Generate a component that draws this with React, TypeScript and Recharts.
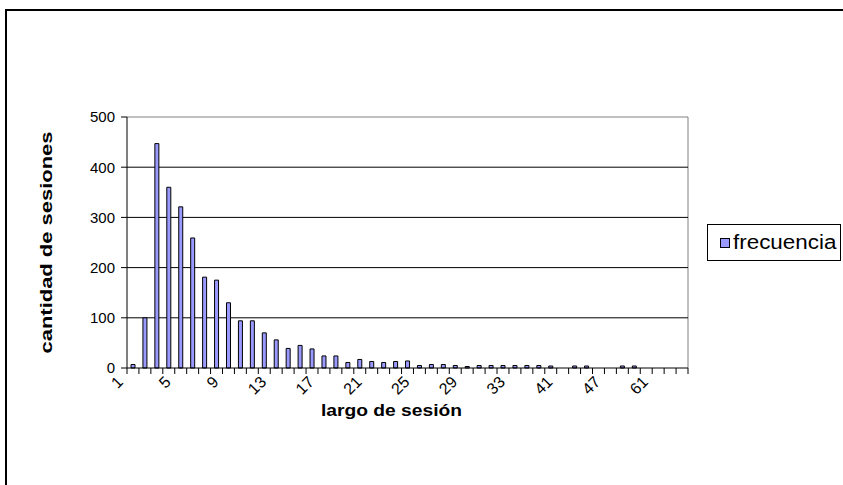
import { BarChart, Bar, XAxis, YAxis, CartesianGrid, Legend, Label } from 'recharts';

// session length buckets as printed on the x axis (only every 4th is labelled)
const categories = [
  '1', '2', '3', '4', '5', '6', '7', '8', '9', '10',
  '11', '12', '13', '14', '15', '16', '17', '18', '19', '20',
  '21', '22', '23', '24', '25', '26', '27', '28', '29', '30',
  '31', '32', '33', '35', '37', '39', '41', '42', '43', '45',
  '47', '49', '52', '55', '61', '70', '85',
];

const frecuencia = [
  7, 100, 447, 360, 321, 259, 181, 175, 130, 94,
  94, 70, 56, 39, 45, 38, 24, 24, 11, 17,
  13, 11, 13, 14, 5, 7, 7, 5, 3, 5,
  5, 5, 5, 5, 5, 4, 0, 4, 4, 0,
  0, 4, 4, 0, 0, 0, 0,
];

const yTicks = [0, 100, 200, 300, 400, 500];
const gridValues = [100, 200, 300, 400];

const data = categories.map((largo, i) => ({ largo, frecuencia: frecuencia[i] }));

const W = 843;
const H = 485;
const PLOT_LEFT = 127;
const PLOT_RIGHT = 688;
const PLOT_TOP = 117;
const PLOT_BOTTOM = 368;
const BAND = (PLOT_RIGHT - PLOT_LEFT) / categories.length;
const FONT = '"Liberation Sans", Arial, sans-serif';

function CategoryTick(props: any) {
  const { x, y, payload, index } = props;
  const half = BAND / 2;
  const last = index === categories.length - 1;
  const lx = x - 9;
  const ly = y + 15;
  return (
    <g>
      <line x1={x - half} x2={x - half} y1={y} y2={y + 6} stroke="#000" />
      {last && <line x1={x + half} x2={x + half} y1={y} y2={y + 6} stroke="#000" />}
      {index % 4 === 0 && (
        <text
          x={lx}
          y={ly}
          transform={`rotate(-45 ${lx} ${ly})`}
          textAnchor="end"
          fontSize={16}
          fontFamily={FONT}
          fill="#000"
        >
          {payload.value}
        </text>
      )}
    </g>
  );
}

function LegendBox() {
  return (
    <div
      style={{
        boxSizing: 'border-box',
        width: 134,
        height: 37,
        border: '1px solid #000',
        background: '#fff',
        display: 'flex',
        alignItems: 'center',
        paddingLeft: 12,
        fontFamily: FONT,
      }}
    >
      <span
        style={{
          display: 'inline-block',
          boxSizing: 'border-box',
          width: 10,
          height: 10,
          background: '#9999ff',
          border: '1px solid #000',
          marginRight: 3,
        }}
      />
      <span
        style={{
          fontSize: 20,
          color: '#000',
          display: 'inline-block',
          transform: 'scaleX(1.12)',
          transformOrigin: 'left center',
        }}
      >
        frecuencia
      </span>
    </div>
  );
}

export default function App() {
  return (
    <div style={{ position: 'fixed', left: 0, top: 0, width: W, height: H, background: '#fff' }}>
      <div
        style={{
          position: 'absolute',
          left: 5,
          top: 9,
          width: W,
          height: H,
          borderLeft: '2px solid #000',
          borderTop: '2px solid #000',
        }}
      />
      <div style={{ position: 'absolute', left: 0, top: 0 }}>
        <BarChart
          width={W}
          height={H}
          data={data}
          margin={{ top: PLOT_TOP, right: W - PLOT_RIGHT, bottom: H - PLOT_BOTTOM - 60, left: PLOT_LEFT - 60 }}
          barCategoryGap="10%"
        >
          {/* plot area frame: grey top and right edges */}
          <CartesianGrid
            horizontalCoordinatesGenerator={({ offset }: any) => [offset.top]}
            verticalCoordinatesGenerator={({ offset }: any) => [offset.left + offset.width]}
            stroke="#808080"
          />
          <CartesianGrid vertical={false} horizontalValues={gridValues} stroke="#000" />
          <XAxis
            dataKey="largo"
            interval={0}
            height={60}
            tickSize={0}
            tickMargin={0}
            tickLine={false}
            axisLine={{ stroke: '#000' }}
            tick={<CategoryTick />}
          >
            <Label
              content={({ viewBox }: any) => (
                <text
                  x={viewBox.x + viewBox.width / 2 - 16}
                  y={viewBox.y + 48}
                  textAnchor="middle"
                  fontSize={17}
                  fontWeight="bold"
                  fontFamily={FONT}
                  fill="#000"
                  textLength={141}
                  lengthAdjust="spacingAndGlyphs"
                >
                  largo de sesión
                </text>
              )}
            />
          </XAxis>
          <YAxis
            width={60}
            domain={[0, 500]}
            ticks={yTicks}
            interval={0}
            tickSize={6}
            tickMargin={6}
            tickLine={{ stroke: '#000' }}
            axisLine={{ stroke: '#000' }}
            tick={{ fontSize: 15, fill: '#000', fontFamily: FONT }}
          >
            <Label
              content={({ viewBox }: any) => {
                const cx = 46;
                const cy = viewBox.y + viewBox.height / 2;
                return (
                  <text
                    x={cx}
                    y={cy}
                    transform={`rotate(-90 ${cx} ${cy})`}
                    textAnchor="middle"
                    dominantBaseline="central"
                    fontSize={17}
                    fontWeight="bold"
                    fontFamily={FONT}
                    fill="#000"
                    textLength={222}
                    lengthAdjust="spacingAndGlyphs"
                  >
                    cantidad de sesiones
                  </text>
                );
              }}
            />
          </YAxis>
          <Legend
            layout="horizontal"
            verticalAlign="middle"
            align="center"
            wrapperStyle={{ left: 707, top: 224, right: 'auto', bottom: 'auto', width: 134, height: 37 }}
            content={() => <LegendBox />}
          />
          <Bar
            dataKey="frecuencia"
            name="frecuencia"
            fill="#9999ff"
            stroke="#000"
            strokeWidth={1}
            barSize={4}
            isAnimationActive={false}
          />
        </BarChart>
      </div>
    </div>
  );
}
